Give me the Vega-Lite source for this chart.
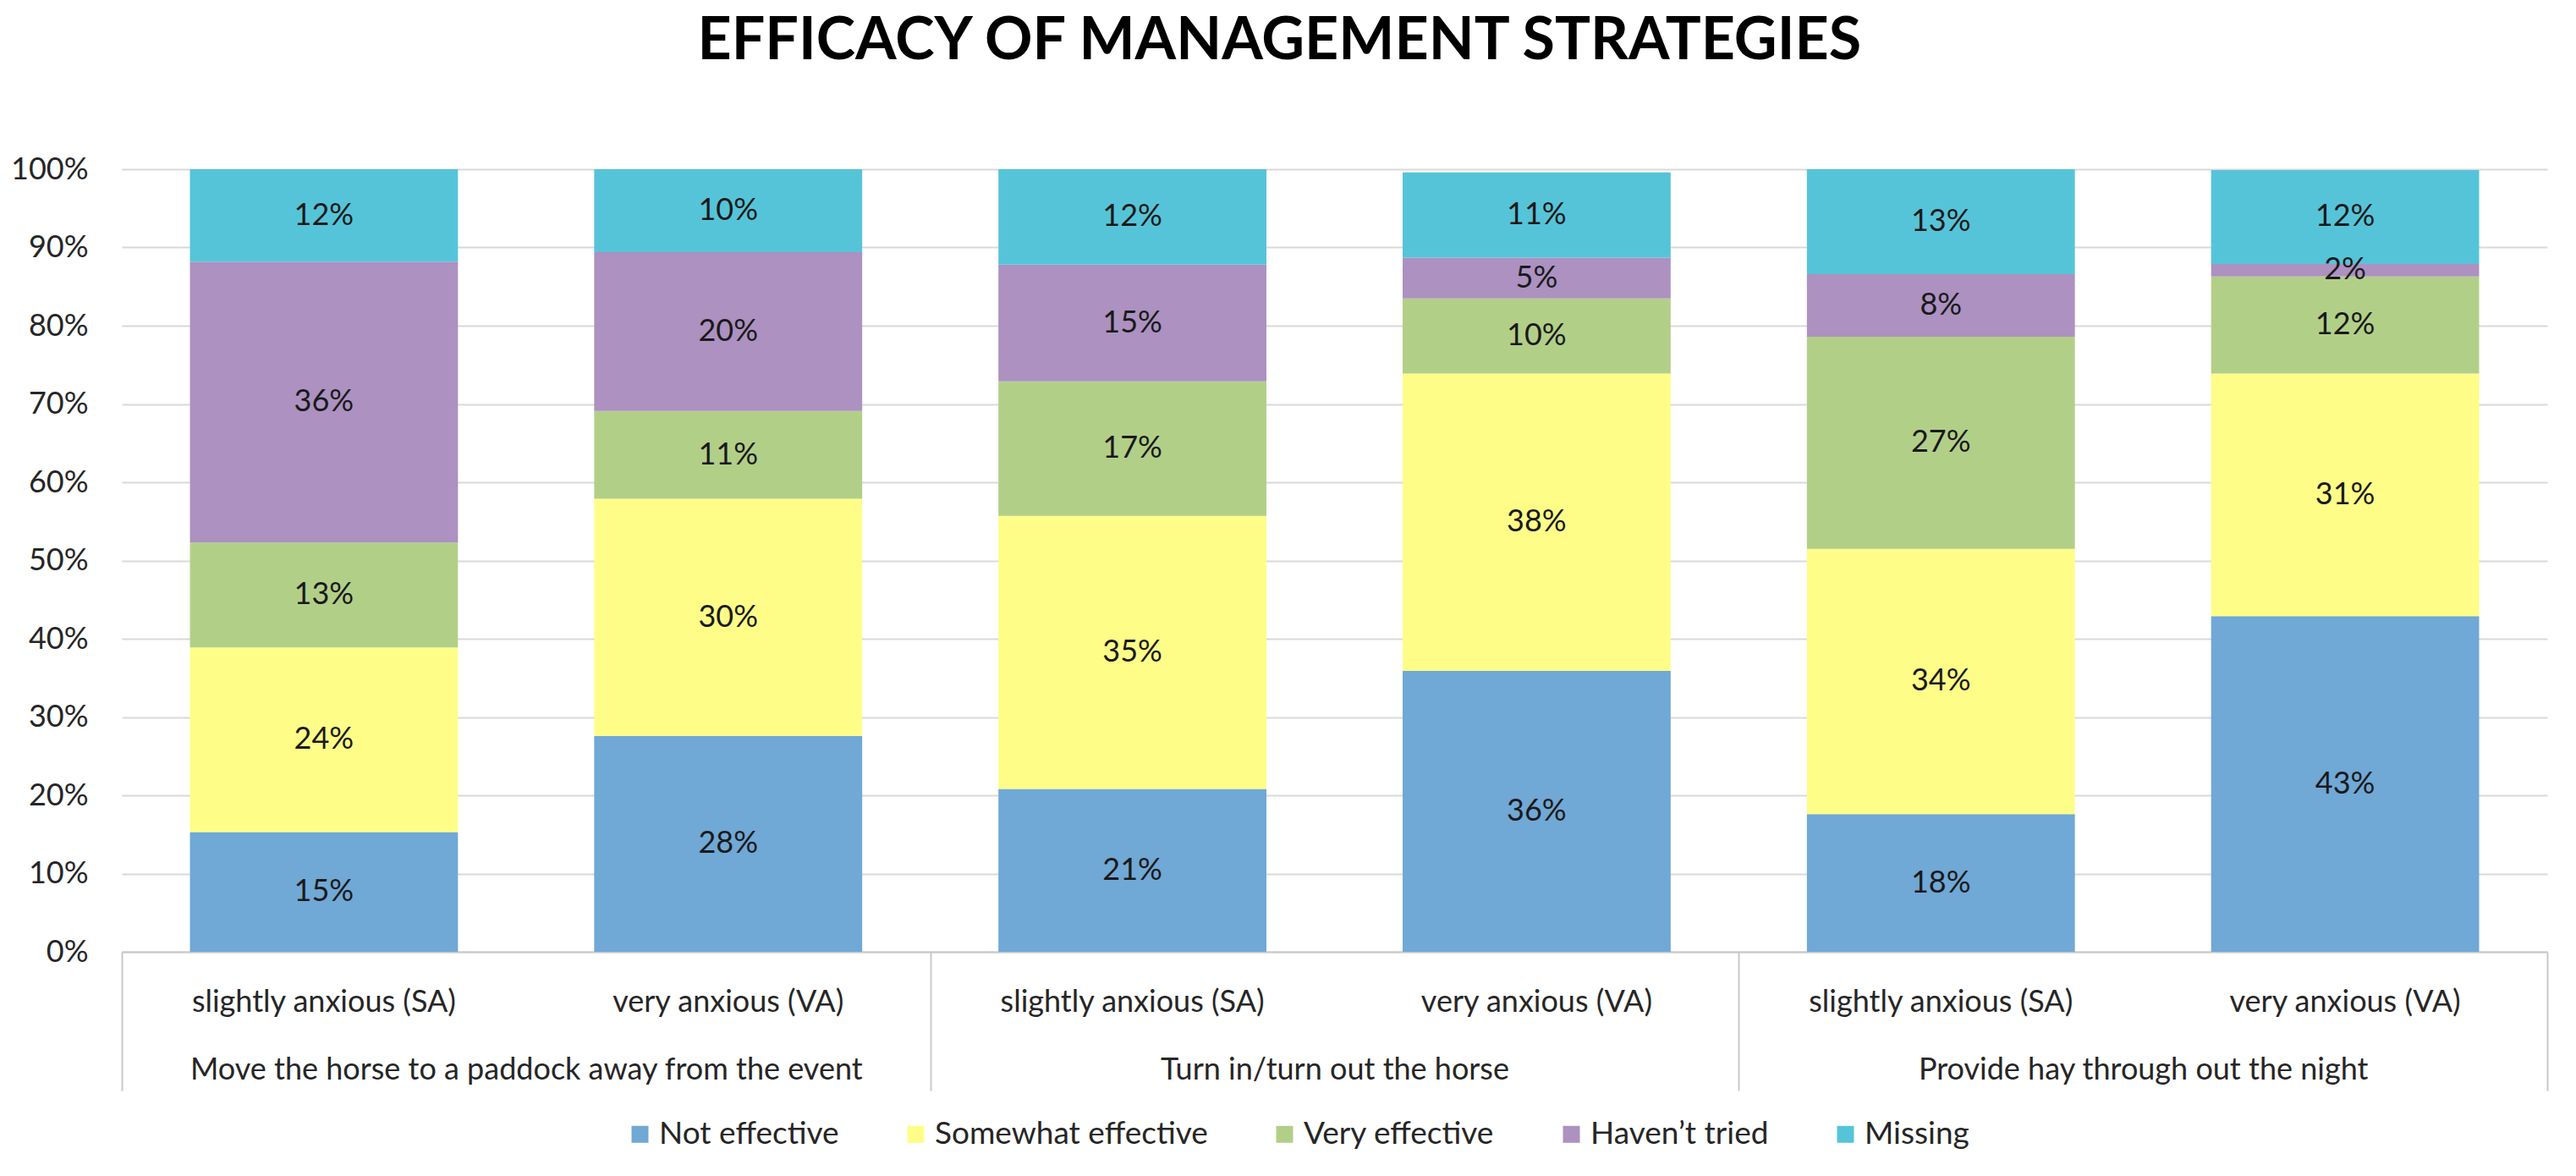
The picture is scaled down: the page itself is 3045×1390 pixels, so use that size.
{
  "$schema": "https://vega.github.io/schema/vega-lite/v6.json",
  "width": 2867,
  "height": 925,
  "padding": {"left": 12, "top": 14, "right": 30, "bottom": 0},
  "background": "white",
  "title": {
    "text": "EFFICACY OF MANAGEMENT STRATEGIES",
    "font": "Lato",
    "fontSize": 70,
    "fontWeight": "bold",
    "color": "#000000",
    "anchor": "middle",
    "frame": "bounds",
    "offset": 97
  },
  "config": {
    "view": {"stroke": null},
    "font": "Lato"
  },
  "data": {
    "values": [
      {"strategy": "Move the horse to a paddock away from the event", "anxiety": "slightly anxious (SA)", "bar": "Move|slightly anxious (SA)", "response": "Not effective", "rank": 1, "pct": 15.3, "label": "15%"},
      {"strategy": "Move the horse to a paddock away from the event", "anxiety": "slightly anxious (SA)", "bar": "Move|slightly anxious (SA)", "response": "Somewhat effective", "rank": 2, "pct": 23.6, "label": "24%"},
      {"strategy": "Move the horse to a paddock away from the event", "anxiety": "slightly anxious (SA)", "bar": "Move|slightly anxious (SA)", "response": "Very effective", "rank": 3, "pct": 13.4, "label": "13%"},
      {"strategy": "Move the horse to a paddock away from the event", "anxiety": "slightly anxious (SA)", "bar": "Move|slightly anxious (SA)", "response": "Haven’t tried", "rank": 4, "pct": 35.9, "label": "36%"},
      {"strategy": "Move the horse to a paddock away from the event", "anxiety": "slightly anxious (SA)", "bar": "Move|slightly anxious (SA)", "response": "Missing", "rank": 5, "pct": 11.8, "label": "12%"},

      {"strategy": "Move the horse to a paddock away from the event", "anxiety": "very anxious (VA)", "bar": "Move|very anxious (VA)", "response": "Not effective", "rank": 1, "pct": 27.6, "label": "28%"},
      {"strategy": "Move the horse to a paddock away from the event", "anxiety": "very anxious (VA)", "bar": "Move|very anxious (VA)", "response": "Somewhat effective", "rank": 2, "pct": 30.3, "label": "30%"},
      {"strategy": "Move the horse to a paddock away from the event", "anxiety": "very anxious (VA)", "bar": "Move|very anxious (VA)", "response": "Very effective", "rank": 3, "pct": 11.2, "label": "11%"},
      {"strategy": "Move the horse to a paddock away from the event", "anxiety": "very anxious (VA)", "bar": "Move|very anxious (VA)", "response": "Haven’t tried", "rank": 4, "pct": 20.3, "label": "20%"},
      {"strategy": "Move the horse to a paddock away from the event", "anxiety": "very anxious (VA)", "bar": "Move|very anxious (VA)", "response": "Missing", "rank": 5, "pct": 10.6, "label": "10%"},

      {"strategy": "Turn in/turn out the horse", "anxiety": "slightly anxious (SA)", "bar": "Turn|slightly anxious (SA)", "response": "Not effective", "rank": 1, "pct": 20.8, "label": "21%"},
      {"strategy": "Turn in/turn out the horse", "anxiety": "slightly anxious (SA)", "bar": "Turn|slightly anxious (SA)", "response": "Somewhat effective", "rank": 2, "pct": 34.9, "label": "35%"},
      {"strategy": "Turn in/turn out the horse", "anxiety": "slightly anxious (SA)", "bar": "Turn|slightly anxious (SA)", "response": "Very effective", "rank": 3, "pct": 17.2, "label": "17%"},
      {"strategy": "Turn in/turn out the horse", "anxiety": "slightly anxious (SA)", "bar": "Turn|slightly anxious (SA)", "response": "Haven’t tried", "rank": 4, "pct": 14.9, "label": "15%"},
      {"strategy": "Turn in/turn out the horse", "anxiety": "slightly anxious (SA)", "bar": "Turn|slightly anxious (SA)", "response": "Missing", "rank": 5, "pct": 12.2, "label": "12%"},

      {"strategy": "Turn in/turn out the horse", "anxiety": "very anxious (VA)", "bar": "Turn|very anxious (VA)", "response": "Not effective", "rank": 1, "pct": 35.9, "label": "36%"},
      {"strategy": "Turn in/turn out the horse", "anxiety": "very anxious (VA)", "bar": "Turn|very anxious (VA)", "response": "Somewhat effective", "rank": 2, "pct": 38.0, "label": "38%"},
      {"strategy": "Turn in/turn out the horse", "anxiety": "very anxious (VA)", "bar": "Turn|very anxious (VA)", "response": "Very effective", "rank": 3, "pct": 9.6, "label": "10%"},
      {"strategy": "Turn in/turn out the horse", "anxiety": "very anxious (VA)", "bar": "Turn|very anxious (VA)", "response": "Haven’t tried", "rank": 4, "pct": 5.2, "label": "5%"},
      {"strategy": "Turn in/turn out the horse", "anxiety": "very anxious (VA)", "bar": "Turn|very anxious (VA)", "response": "Missing", "rank": 5, "pct": 10.9, "label": "11%"},

      {"strategy": "Provide hay through out the night", "anxiety": "slightly anxious (SA)", "bar": "Hay|slightly anxious (SA)", "response": "Not effective", "rank": 1, "pct": 17.6, "label": "18%"},
      {"strategy": "Provide hay through out the night", "anxiety": "slightly anxious (SA)", "bar": "Hay|slightly anxious (SA)", "response": "Somewhat effective", "rank": 2, "pct": 33.9, "label": "34%"},
      {"strategy": "Provide hay through out the night", "anxiety": "slightly anxious (SA)", "bar": "Hay|slightly anxious (SA)", "response": "Very effective", "rank": 3, "pct": 27.1, "label": "27%"},
      {"strategy": "Provide hay through out the night", "anxiety": "slightly anxious (SA)", "bar": "Hay|slightly anxious (SA)", "response": "Haven’t tried", "rank": 4, "pct": 8.0, "label": "8%"},
      {"strategy": "Provide hay through out the night", "anxiety": "slightly anxious (SA)", "bar": "Hay|slightly anxious (SA)", "response": "Missing", "rank": 5, "pct": 13.4, "label": "13%"},

      {"strategy": "Provide hay through out the night", "anxiety": "very anxious (VA)", "bar": "Hay|very anxious (VA)", "response": "Not effective", "rank": 1, "pct": 42.9, "label": "43%"},
      {"strategy": "Provide hay through out the night", "anxiety": "very anxious (VA)", "bar": "Hay|very anxious (VA)", "response": "Somewhat effective", "rank": 2, "pct": 31.0, "label": "31%"},
      {"strategy": "Provide hay through out the night", "anxiety": "very anxious (VA)", "bar": "Hay|very anxious (VA)", "response": "Very effective", "rank": 3, "pct": 12.4, "label": "12%"},
      {"strategy": "Provide hay through out the night", "anxiety": "very anxious (VA)", "bar": "Hay|very anxious (VA)", "response": "Haven’t tried", "rank": 4, "pct": 1.6, "label": "2%"},
      {"strategy": "Provide hay through out the night", "anxiety": "very anxious (VA)", "bar": "Hay|very anxious (VA)", "response": "Missing", "rank": 5, "pct": 12.0, "label": "12%"}
    ]
  },
  "layer": [
    {
      "encoding": {
        "x": {
          "field": "bar",
          "type": "nominal",
          "sort": null,
          "scale": {"paddingInner": 0.337, "paddingOuter": 0.1685},
          "axis": {
            "title": null,
            "domain": true,
            "domainColor": "#c8c8c8",
            "domainWidth": 2,
            "ticks": false,
            "labelAngle": 0,
            "labelExpr": "split(datum.value, '|')[1]",
            "labelFont": "Lato",
            "labelFontSize": 36,
            "labelColor": "#262626",
            "labelPadding": 42,
            "labelLimit": 0
          }
        },
        "y": {
          "field": "pct",
          "type": "quantitative",
          "stack": "zero",
          "scale": {"domain": [0, 100], "nice": false},
          "axis": {
            "title": null,
            "values": [0, 10, 20, 30, 40, 50, 60, 70, 80, 90, 100],
            "labelExpr": "datum.value + '%'",
            "domain": false,
            "ticks": false,
            "grid": true,
            "gridColor": "#d9d9d9",
            "gridWidth": 2,
            "labelFont": "Lato",
            "labelFontSize": 36,
            "labelColor": "#262626",
            "labelPadding": 40
          }
        },
        "order": {"field": "rank", "type": "quantitative"}
      },
      "layer": [
        {
          "mark": {"type": "bar"},
          "encoding": {
            "color": {
              "field": "response",
              "type": "nominal",
              "sort": ["Not effective", "Somewhat effective", "Very effective", "Haven’t tried", "Missing"],
              "scale": {
                "domain": ["Not effective", "Somewhat effective", "Very effective", "Haven’t tried", "Missing"],
                "range": ["#70a8d6", "#fefd88", "#b2cf88", "#ac91c1", "#56c4d8"]
              },
              "legend": {
                "title": null,
                "orient": "none",
                "legendX": 594,
                "legendY": 1122,
                "direction": "horizontal",
                "symbolType": "square",
                "symbolSize": 400,
                "symbolStrokeWidth": 0,
                "labelFont": "Lato",
                "labelFontSize": 37,
                "labelColor": "#262626",
                "labelLimit": 0,
                "columnPadding": 72
              }
            }
          }
        },
        {
          "mark": {"type": "text", "font": "Lato", "fontSize": 36, "color": "#1a1a1a", "baseline": "middle"},
          "encoding": {
            "y": {
              "field": "pct",
              "type": "quantitative",
              "stack": "zero",
              "bandPosition": 0.5
            },
            "detail": {"field": "response"},
            "text": {"field": "label"}
          }
        }
      ]
    },
    {
      "mark": {"type": "point", "opacity": 0},
      "encoding": {
        "x": {
          "field": "strategy",
          "type": "nominal",
          "sort": ["Move the horse to a paddock away from the event", "Turn in/turn out the horse", "Provide hay through out the night"],
          "scale": {"paddingInner": 0, "paddingOuter": 0},
          "axis": {
            "title": null,
            "orient": "bottom",
            "domain": false,
            "ticks": true,
            "tickBand": "extent",
            "tickSize": 164,
            "tickColor": "#c8c8c8",
            "tickWidth": 2,
            "labelAngle": 0,
            "labelFont": "Lato",
            "labelFontSize": 36,
            "labelColor": "#262626",
            "labelPadding": -42,
            "labelLimit": 0,
            "grid": false
          }
        }
      }
    }
  ],
  "resolve": {"scale": {"x": "independent"}}
}
